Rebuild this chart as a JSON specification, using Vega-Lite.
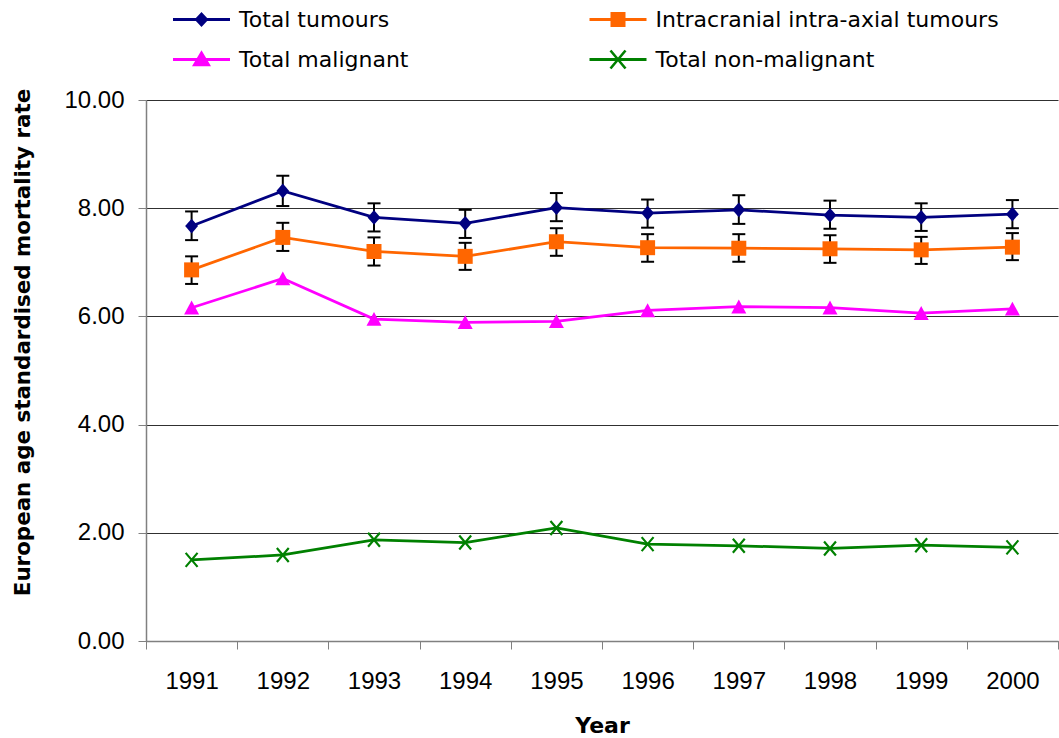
{
  "$schema": "https://vega.github.io/schema/vega-lite/v6.json",
  "width": 912,
  "height": 541,
  "autosize": {"type": "none"},
  "padding": {"left": 146, "top": 100, "right": 1, "bottom": 97},
  "background": "white",
  "config": {
    "view": {"stroke": null},
    "legend": {"padding": 0}
  },
  "data": {
    "values": [
      {"year": "1991", "series": "Total tumours", "value": 7.67, "lo": 7.41, "hi": 7.94},
      {"year": "1992", "series": "Total tumours", "value": 8.32, "lo": 8.04, "hi": 8.60},
      {"year": "1993", "series": "Total tumours", "value": 7.83, "lo": 7.57, "hi": 8.09},
      {"year": "1994", "series": "Total tumours", "value": 7.72, "lo": 7.45, "hi": 7.97},
      {"year": "1995", "series": "Total tumours", "value": 8.01, "lo": 7.76, "hi": 8.28},
      {"year": "1996", "series": "Total tumours", "value": 7.91, "lo": 7.64, "hi": 8.16},
      {"year": "1997", "series": "Total tumours", "value": 7.97, "lo": 7.71, "hi": 8.24},
      {"year": "1998", "series": "Total tumours", "value": 7.87, "lo": 7.62, "hi": 8.14},
      {"year": "1999", "series": "Total tumours", "value": 7.83, "lo": 7.58, "hi": 8.09},
      {"year": "2000", "series": "Total tumours", "value": 7.89, "lo": 7.63, "hi": 8.15},
      {"year": "1991", "series": "Intracranial intra-axial tumours", "value": 6.86, "lo": 6.60, "hi": 7.11},
      {"year": "1992", "series": "Intracranial intra-axial tumours", "value": 7.46, "lo": 7.21, "hi": 7.73},
      {"year": "1993", "series": "Intracranial intra-axial tumours", "value": 7.20, "lo": 6.94, "hi": 7.46},
      {"year": "1994", "series": "Intracranial intra-axial tumours", "value": 7.11, "lo": 6.86, "hi": 7.36},
      {"year": "1995", "series": "Intracranial intra-axial tumours", "value": 7.38, "lo": 7.12, "hi": 7.63},
      {"year": "1996", "series": "Intracranial intra-axial tumours", "value": 7.27, "lo": 7.01, "hi": 7.52},
      {"year": "1997", "series": "Intracranial intra-axial tumours", "value": 7.26, "lo": 7.01, "hi": 7.52},
      {"year": "1998", "series": "Intracranial intra-axial tumours", "value": 7.25, "lo": 6.99, "hi": 7.50},
      {"year": "1999", "series": "Intracranial intra-axial tumours", "value": 7.23, "lo": 6.97, "hi": 7.47},
      {"year": "2000", "series": "Intracranial intra-axial tumours", "value": 7.28, "lo": 7.04, "hi": 7.54},
      {"year": "1991", "series": "Total malignant", "value": 6.16, "lo": null, "hi": null},
      {"year": "1992", "series": "Total malignant", "value": 6.70, "lo": null, "hi": null},
      {"year": "1993", "series": "Total malignant", "value": 5.95, "lo": null, "hi": null},
      {"year": "1994", "series": "Total malignant", "value": 5.89, "lo": null, "hi": null},
      {"year": "1995", "series": "Total malignant", "value": 5.91, "lo": null, "hi": null},
      {"year": "1996", "series": "Total malignant", "value": 6.11, "lo": null, "hi": null},
      {"year": "1997", "series": "Total malignant", "value": 6.18, "lo": null, "hi": null},
      {"year": "1998", "series": "Total malignant", "value": 6.16, "lo": null, "hi": null},
      {"year": "1999", "series": "Total malignant", "value": 6.06, "lo": null, "hi": null},
      {"year": "2000", "series": "Total malignant", "value": 6.14, "lo": null, "hi": null},
      {"year": "1991", "series": "Total non-malignant", "value": 1.50, "lo": null, "hi": null},
      {"year": "1992", "series": "Total non-malignant", "value": 1.59, "lo": null, "hi": null},
      {"year": "1993", "series": "Total non-malignant", "value": 1.87, "lo": null, "hi": null},
      {"year": "1994", "series": "Total non-malignant", "value": 1.82, "lo": null, "hi": null},
      {"year": "1995", "series": "Total non-malignant", "value": 2.09, "lo": null, "hi": null},
      {"year": "1996", "series": "Total non-malignant", "value": 1.79, "lo": null, "hi": null},
      {"year": "1997", "series": "Total non-malignant", "value": 1.76, "lo": null, "hi": null},
      {"year": "1998", "series": "Total non-malignant", "value": 1.71, "lo": null, "hi": null},
      {"year": "1999", "series": "Total non-malignant", "value": 1.77, "lo": null, "hi": null},
      {"year": "2000", "series": "Total non-malignant", "value": 1.73, "lo": null, "hi": null}
    ]
  },
  "layer": [
    {
      "transform": [{"filter": "datum.series == 'Total tumours'"}],
      "mark": {"type": "line", "strokeWidth": 2.75, "color": "#000080"},
      "encoding": {
        "x": {
          "field": "year", "type": "ordinal",
          "scale": {"type": "band", "paddingInner": 0, "paddingOuter": 0},
          "axis": {
            "title": "Year",
            "titleFont": "DejaVu Sans", "titleFontWeight": "bold", "titleFontSize": 22, "titleColor": "black",
            "titleBaseline": "alphabetic", "titleY": 91,
            "labelFont": "Liberation Sans", "labelFontSize": 24, "labelColor": "black",
            "labelAngle": 0, "labelBaseline": "alphabetic", "labelPadding": 39,
            "tickBand": "extent", "tickSize": 8, "tickColor": "#808080", "tickWidth": 1,
            "domainColor": "#808080", "domainWidth": 1.5, "grid": false
          }
        },
        "y": {
          "field": "value", "type": "quantitative",
          "title": "European age standardised mortality rate",
          "scale": {"domain": [0, 10], "nice": false},
          "axis": {
            "values": [0, 2, 4, 6, 8, 10], "format": ".2f",
            "titleFont": "DejaVu Sans", "titleFontWeight": "bold", "titleFontSize": 21.4, "titleColor": "black",
            "titleAngle": -90, "titleBaseline": "alphabetic", "titleAlign": "center", "titleX": -117, "titleY": 242,
            "labelFont": "Liberation Sans", "labelFontSize": 24, "labelColor": "black", "labelPadding": 14,
            "tickSize": 8, "tickColor": "#808080", "tickWidth": 1,
            "domainColor": "#808080", "domainWidth": 1.5,
            "grid": true, "gridColor": "#303030", "gridWidth": 1
          }
        }
      }
    },
    {
      "transform": [{"filter": "datum.series == 'Intracranial intra-axial tumours'"}],
      "mark": {"type": "line", "strokeWidth": 2.75, "color": "#FF6600"},
      "encoding": {
        "x": {"field": "year", "type": "ordinal"},
        "y": {"field": "value", "type": "quantitative", "title": "European age standardised mortality rate"}
      }
    },
    {
      "transform": [{"filter": "datum.series == 'Total malignant'"}],
      "mark": {"type": "line", "strokeWidth": 2.75, "color": "#FF00FF"},
      "encoding": {
        "x": {"field": "year", "type": "ordinal"},
        "y": {"field": "value", "type": "quantitative", "title": "European age standardised mortality rate"}
      }
    },
    {
      "transform": [{"filter": "datum.series == 'Total non-malignant'"}],
      "mark": {"type": "line", "strokeWidth": 2.75, "color": "#008000"},
      "encoding": {
        "x": {"field": "year", "type": "ordinal"},
        "y": {"field": "value", "type": "quantitative", "title": "European age standardised mortality rate"}
      }
    },
    {
      "transform": [{"filter": "datum.lo != null"}],
      "mark": {"type": "rule", "color": "black", "strokeWidth": 2},
      "encoding": {
        "x": {"field": "year", "type": "ordinal"},
        "y": {"field": "lo", "type": "quantitative", "title": "European age standardised mortality rate"},
        "y2": {"field": "hi"}
      }
    },
    {
      "transform": [{"filter": "datum.lo != null"}],
      "mark": {"type": "tick", "color": "black", "thickness": 2, "size": 13, "opacity": 1},
      "encoding": {
        "x": {"field": "year", "type": "ordinal"},
        "y": {"field": "lo", "type": "quantitative", "title": "European age standardised mortality rate"}
      }
    },
    {
      "transform": [{"filter": "datum.lo != null"}],
      "mark": {"type": "tick", "color": "black", "thickness": 2, "size": 13, "opacity": 1},
      "encoding": {
        "x": {"field": "year", "type": "ordinal"},
        "y": {"field": "hi", "type": "quantitative", "title": "European age standardised mortality rate"}
      }
    },
    {
      "transform": [{"filter": "datum.series == 'Total tumours'"}],
      "mark": {"type": "point", "shape": "M0,-1L0.88,0L0,1L-0.88,0Z", "filled": true, "size": 215, "color": "#000080", "opacity": 1, "strokeWidth": 0},
      "encoding": {
        "x": {"field": "year", "type": "ordinal"},
        "y": {"field": "value", "type": "quantitative", "title": "European age standardised mortality rate"}
      }
    },
    {
      "transform": [{"filter": "datum.series == 'Intracranial intra-axial tumours'"}],
      "mark": {"type": "point", "shape": "square", "filled": true, "size": 225, "color": "#FF6600", "opacity": 1, "strokeWidth": 0},
      "encoding": {
        "x": {"field": "year", "type": "ordinal"},
        "y": {"field": "value", "type": "quantitative", "title": "European age standardised mortality rate"}
      }
    },
    {
      "transform": [{"filter": "datum.series == 'Total malignant'"}],
      "mark": {"type": "point", "shape": "M0,-0.95L1,0.9L-1,0.9Z", "filled": true, "size": 225, "color": "#FF00FF", "opacity": 1, "strokeWidth": 0},
      "encoding": {
        "x": {"field": "year", "type": "ordinal"},
        "y": {"field": "value", "type": "quantitative", "title": "European age standardised mortality rate"}
      }
    },
    {
      "transform": [{"filter": "datum.series == 'Total non-malignant'"}],
      "mark": {"type": "point", "shape": "M-0.85,-1L0.85,1M0.85,-1L-0.85,1", "filled": false, "size": 196, "color": "#008000", "opacity": 1, "strokeWidth": 2.2},
      "encoding": {
        "x": {"field": "year", "type": "ordinal"},
        "y": {"field": "value", "type": "quantitative", "title": "European age standardised mortality rate"}
      }
    },
    {
      "transform": [{"filter": "datum.value < 0"}],
      "mark": {"type": "point", "filled": true, "size": 400, "opacity": 1, "strokeWidth": 0},
      "encoding": {
        "x": {"field": "year", "type": "ordinal"},
        "y": {"field": "value", "type": "quantitative", "title": "European age standardised mortality rate"},
        "color": {
          "field": "series", "type": "nominal",
          "scale": {
            "domain": ["Total tumours", "Total malignant", "Intracranial intra-axial tumours", "Total non-malignant"],
            "range": ["#000080", "#FF00FF", "#FF6600", "#008000"]
          },
          "legend": {
            "orient": "none", "legendX": 44.5, "legendY": -91.5,
            "title": null, "columns": 2, "columnPadding": 180.5, "rowPadding": 18,
            "labelFont": "DejaVu Sans", "labelFontSize": 22, "labelColor": "black", "labelOffset": 26.5, "labelLimit": 500,
            "symbolSize": 400, "symbolStrokeWidth": 0, "symbolOpacity": 1
          }
        },
        "shape": {
          "field": "series", "type": "nominal",
          "scale": {
            "domain": ["Total tumours", "Total malignant", "Intracranial intra-axial tumours", "Total non-malignant"],
            "range": [
              "M-2.85,-0.15L-0.56,-0.15L0,-0.75L0.56,-0.15L2.85,-0.15L2.85,0.15L0.56,0.15L0,0.75L-0.56,0.15L-2.85,0.15Z",
              "M-2.85,-0.15L-0.46,-0.15L0,-0.93L0.46,-0.15L2.85,-0.15L2.85,0.15L0.64,0.15L0.95,0.67L-0.95,0.67L-0.64,0.15L-2.85,0.15Z",
              "M-2.85,-0.15L-0.75,-0.15L-0.75,-0.75L0.75,-0.75L0.75,-0.15L2.85,-0.15L2.85,0.15L0.75,0.15L0.75,0.75L-0.75,0.75L-0.75,0.15L-2.85,0.15Z",
              "M-2.85,-0.15L2.85,-0.15L2.85,0.15L-2.85,0.15Z M-0.65,-0.98L0.85,0.82L0.65,0.98L-0.85,-0.82Z M0.65,-0.98L0.85,-0.82L-0.65,0.98L-0.85,0.82Z"
            ]
          },
          "legend": {
            "orient": "none", "legendX": 44.5, "legendY": -91.5,
            "title": null, "columns": 2, "columnPadding": 180.5, "rowPadding": 18,
            "labelFont": "DejaVu Sans", "labelFontSize": 22, "labelColor": "black", "labelOffset": 26.5, "labelLimit": 500,
            "symbolSize": 400, "symbolStrokeWidth": 0, "symbolOpacity": 1
          }
        }
      }
    }
  ]
}
